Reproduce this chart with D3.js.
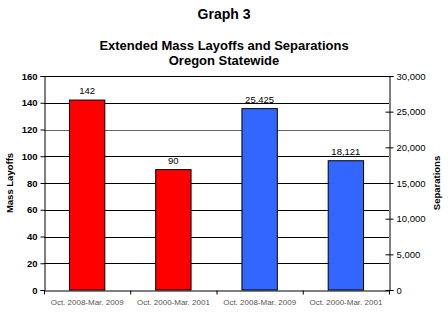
<!DOCTYPE html>
<html><head><meta charset="utf-8">
<script src="https://cdn.jsdelivr.net/npm/d3@7"></script>
<style>body{margin:0;background:#fff}svg{display:block}text{font-family:Arial,"Liberation Sans",sans-serif}</style>
</head><body><svg id="c" width="448" height="332"></svg>
<script>
const categories = ["Oct. 2008-Mar. 2009","Oct. 2000-Mar. 2001","Oct. 2008-Mar. 2009","Oct. 2000-Mar. 2001"];
const layoffs = [142, 90];          // left axis, red bars (categories 0,1)
const separations = [25425, 18121]; // right axis, blue bars (categories 2,3)
const leftTicks = [0,20,40,60,80,100,120,140,160];
const rightTicks = [0,5000,10000,15000,20000,25000,30000];

const svg = d3.select("#c");
const L = 44, R = 389, T = 76, B = 290;
const x = d3.scaleBand().domain(d3.range(4)).range([L, R]).paddingInner(0.59).paddingOuter(0.295);
const yL = d3.scaleLinear().domain([0,160]).range([B,T]);
const yR = d3.scaleLinear().domain([0,30000]).range([B,T]);

// gridlines
svg.append("g").selectAll("line").data(leftTicks.filter(d=>d>0)).join("line")
  .attr("x1",L).attr("x2",R).attr("y1",d=>Math.round(yL(d))+0.5).attr("y2",d=>Math.round(yL(d))+0.5)
  .attr("stroke",d=>d===120?"#666":"#000").attr("stroke-width",1);

// bars
const bars = [
  {i:0,v:layoffs[0],y:yL,c:"#ff0000",lab:d3.format(",")(layoffs[0])},
  {i:1,v:layoffs[1],y:yL,c:"#ff0000",lab:d3.format(",")(layoffs[1])},
  {i:2,v:separations[0],y:yR,c:"#3366ff",lab:d3.format(",")(separations[0])},
  {i:3,v:separations[1],y:yR,c:"#3366ff",lab:d3.format(",")(separations[1])}
];
svg.append("g").selectAll("rect").data(bars).join("rect")
  .attr("x",d=>x(d.i)).attr("width",x.bandwidth())
  .attr("y",d=>d.y(d.v)).attr("height",d=>B-d.y(d.v))
  .attr("fill",d=>d.c).attr("stroke","#000").attr("stroke-width",1);
svg.append("g").selectAll("text").data(bars).join("text")
  .attr("x",d=>x(d.i)+x.bandwidth()/2).attr("y",d=>d.y(d.v)-6)
  .attr("text-anchor","middle").attr("font-size",9.5).attr("fill","#000").text(d=>d.lab);

// left axis
const gl = svg.append("g").attr("transform",`translate(${L+0.5},0)`)
  .call(d3.axisLeft(yL).tickValues(leftTicks).tickSize(4).tickPadding(3));
gl.select(".domain").attr("stroke","#000");
gl.selectAll("text").attr("font-size",9.5).attr("font-weight","bold").attr("fill","#000").attr("font-family","Arial,'Liberation Sans',sans-serif");

// right axis
const gr = svg.append("g").attr("transform",`translate(${R+0.5},0)`)
  .call(d3.axisRight(yR).tickValues(rightTicks).tickFormat(d3.format(",")).tickSize(4).tickPadding(3));
gr.selectAll(".tick line").attr("x1",-4);
gr.select(".domain").attr("stroke","#000");
gr.selectAll("text").attr("font-size",9.5).attr("fill","#000").attr("font-family","Arial,'Liberation Sans',sans-serif");

// bottom axis
const xb = d3.scaleLinear().domain([0,4]).range([L,R]);
const gb = svg.append("g").attr("transform",`translate(0,${B+0.5})`)
  .call(d3.axisBottom(xb).tickValues([0,1,2,3,4]).tickFormat("").tickSize(4).tickSizeOuter(0));
gb.select(".domain").attr("stroke","#000");
svg.append("g").selectAll("text").data(categories).join("text")
  .attr("x",(d,i)=>x(i)+x.bandwidth()/2).attr("y",305)
  .attr("text-anchor","middle").attr("font-size",8).attr("fill","#555").text(d=>d);

// titles
svg.append("text").attr("x",224).attr("y",19).attr("text-anchor","middle").attr("font-size",14).attr("font-weight","bold").text("Graph 3");
svg.append("text").attr("x",224).attr("y",50).attr("text-anchor","middle").attr("font-size",13).attr("font-weight","bold").text("Extended Mass Layoffs and Separations");
svg.append("text").attr("x",224).attr("y",65).attr("text-anchor","middle").attr("font-size",13).attr("font-weight","bold").text("Oregon Statewide");

// axis titles
svg.append("text").attr("transform","translate(13,183) rotate(-90)").attr("text-anchor","middle").attr("font-size",9.5).attr("font-weight","bold").text("Mass Layoffs");
svg.append("text").attr("transform","translate(440,183) rotate(-90)").attr("text-anchor","middle").attr("font-size",9.5).attr("font-weight","bold").text("Separations");
</script></body></html>
